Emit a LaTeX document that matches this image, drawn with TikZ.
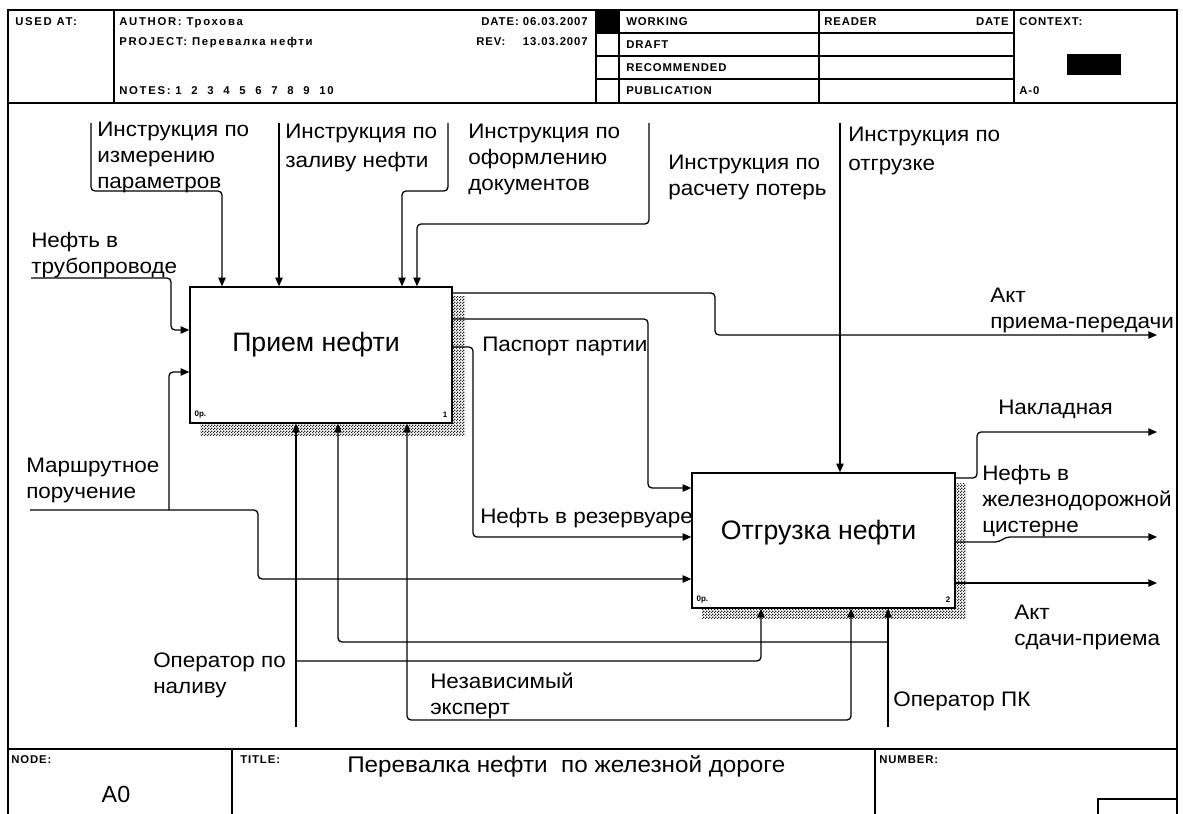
\documentclass[tikz,border=0pt]{standalone}
\usepackage{fontspec}
\setmainfont{Liberation Sans}
\newfontfamily\lblfont[FakeStretch=1.07]{Liberation Sans}
\newfontfamily\hdrfont[LetterSpace=8]{Liberation Sans}
\newfontfamily\hdrwide[LetterSpace=15]{Liberation Sans}
\usetikzlibrary{arrows.meta,patterns,calc}
\pgfdeclarepatternformonly{finechecker}{\pgfqpoint{0pt}{0pt}}{\pgfqpoint{2.25pt}{2.25pt}}{\pgfqpoint{2.25pt}{2.25pt}}{%
  \pgfpathrectangle{\pgfqpoint{0pt}{0pt}}{\pgfqpoint{1.125pt}{1.125pt}}%
  \pgfpathrectangle{\pgfqpoint{1.125pt}{1.125pt}}{\pgfqpoint{1.125pt}{1.125pt}}%
  \pgfusepath{fill}}
\begin{document}
\begin{tikzpicture}[x=0.75pt,y=-0.75pt,
  frame/.style={line width=0.9pt},
  conn/.style={line width=0.95pt, rounded corners=3pt},
  tip/.tip={Triangle[length=6.5pt,width=5.5pt]},
  arr/.style={conn, -tip},
  lbl/.style={font={\lblfont\fontsize{15.75}{19.5}\selectfont}, align=left, inner sep=0pt, anchor=north west},
  hdr/.style={font={\hdrfont\bfseries\fontsize{8.5}{10}\selectfont}, inner sep=0pt, anchor=west, text height=6.1pt, text depth=0pt},
  hdrw/.style={hdr, font={\hdrwide\bfseries\fontsize{8.5}{10}\selectfont}},
  box/.style={draw, fill=white, line width=1pt, minimum width=196.5pt, minimum height=102pt, inner sep=0pt},
  shadow/.style={pattern=finechecker, pattern color=black!85},
  boxtxt/.style={font={\fontsize{20}{24}\selectfont}, inner sep=0pt},
  tiny/.style={font={\bfseries\fontsize{6}{7}\selectfont}, inner sep=0pt}
]
\useasboundingbox (0,0) rectangle (1183,814);
\fill[white] (0,0) rectangle (1183,814);

% ---------- frame ----------
\draw[frame] (8,814) -- (8,10) -- (1177,10) -- (1177,814);
\draw[line width=1.4pt] (8,103) -- (1177,103);
\draw[line width=1.4pt] (8,749) -- (1177,749);

% ---------- header ----------
\draw[frame] (114,10) -- (114,103);
\draw[frame] (596,10) -- (596,103);
\draw[frame] (619,10) -- (619,103);
\draw[frame] (819,10) -- (819,103);
\draw[frame] (1014,10) -- (1014,103);
\foreach \yy in {33,56,79} \draw[frame] (596,\yy) -- (1014,\yy);
\fill (596,10) rectangle (619,33);
\fill (1067,54) rectangle (1121,75);

\node[hdrw] (hUsed) at (15,21) {USED AT:};
\node[hdrw] (hAuthor) at (119,21) {AUTHOR: Трохова};
\node[hdrw] (hProject) at (119,41) {PROJECT: Перевалка нефти};
\node[hdrw] (hNotes) at (119,90) {NOTES:\ 1\ \ 2\ \ 3\ \ 4\ \ 5\ \ 6\ \ 7\ \ 8\ \ 9\ \ 10};
\node[hdr, anchor=east] (hDate) at (588,21) {DATE: 06.03.2007};
\node[hdr] (hRev) at (476,41) {REV:};
\node[hdr, anchor=east] (hRevD) at (588,41) {13.03.2007};
\node[hdr] (hWork) at (626,21) {WORKING};
\node[hdr] (hDraft) at (626,44) {DRAFT};
\node[hdr] (hRec) at (626,67) {RECOMMENDED};
\node[hdr] (hPub) at (626,90) {PUBLICATION};
\node[hdr] (hReader) at (824,21) {READER};
\node[hdr, anchor=east] (hDate2) at (1009,21) {DATE};
\node[hdr] (hCtx) at (1019,21) {CONTEXT:};
\node[hdr] (hA0) at (1019,90) {A-0};

% ---------- footer ----------
\draw[frame] (232,749) -- (232,814);
\draw[frame] (875,749) -- (875,814);
\draw[frame] (1098,814) -- (1098,799) -- (1177,799);
\node[hdr] (fNode) at (11,759) {NODE:};
\node[hdr] (fTitle) at (240,759) {TITLE:};
\node[hdr] (fNum) at (879,759) {NUMBER:};
\node[font={\fontsize{17.5}{20}\selectfont}, inner sep=0pt] (fA0) at (116,794) {A0};
\node[font={\lblfont\fontsize{17}{21}\selectfont}, inner sep=0pt, anchor=west] (fTitleTxt) at (347,766) {Перевалка нефти\ \ по железной дороге};

% ---------- boxes ----------
\fill[shadow] (200,296) rectangle (465,435);
\node[box] (b1) at (321,355) {};
\fill[shadow] (702,483) rectangle (966,618);
\node[box, minimum width=197.25pt, minimum height=101.25pt] (b2) at (823.5,540.5) {};
\node[boxtxt] (t1) at ($(b1.center)+(-5,-10)$) {Прием нефти};
\node[boxtxt] (t2) at ($(b2.center)+(-5,-8)$) {Отгрузка нефти};
\node[tiny, anchor=west] (k1) at ($(b1.south west)+(5,-9)$) {0р.};
\node[tiny, anchor=east] (n1) at ($(b1.south east)+(-5,-9)$) {1};
\node[tiny, anchor=west] (k2) at ($(b2.south west)+(5,-9)$) {0р.};
\node[tiny, anchor=east] (n2) at ($(b2.south east)+(-5,-9)$) {2};

% ---------- free ends ----------
\coordinate (in1) at (31,278);
\coordinate (in2) at (30,510);
\coordinate (j1) at (169,510);
\coordinate (c1s) at (91,123);
\coordinate (c2s) at (279,123);
\coordinate (c3s) at (448,123);
\coordinate (c4s) at (649,123);
\coordinate (c5s) at (840,123);
\coordinate (o1e) at (1157,335);
\coordinate (o4e) at (1157,432);
\coordinate (o5e) at (1157,537);
\coordinate (o6e) at (1157,583);
\coordinate (m1s) at (296,727);
\coordinate (m1j) at (296,661);
\coordinate (m2s) at (888,727);
\coordinate (m2j) at (888,642);

% ---------- inputs ----------
\draw[arr] (in1) -- (171,278) -- (171,330) -- (b1.west |- 0,330);
\draw[arr] (in2) -- (258,510) -- (258,579) -- (b2.west |- 0,579);
\draw[arr] (j1) -- (169,372) -- (b1.west |- 0,372);

% ---------- controls ----------
\draw[arr] (c1s) -- (91,191) -- (222,191) -- (b1.north -| 222,0);
\draw[arr] (c2s) -- (b1.north -| 279,0);
\draw[arr] (c3s) -- (448,191) -- (402,191) -- (b1.north -| 402,0);
\draw[arr] (c4s) -- (649,224) -- (417,224) -- (b1.north -| 417,0);
\draw[arr] (c5s) -- (b2.north -| 840,0);

% ---------- outputs ----------
\draw[arr] (b1.east |- 0,293) -- (715,293) -- (715,335) -- (o1e);
\draw[arr] (b1.east |- 0,319) -- (648,319) -- (648,488) -- (b2.west |- 0,488);
\draw[arr] (b1.east |- 0,347) -- (473,347) -- (473,537) -- (b2.west |- 0,537);
\draw[arr] (b2.east |- 0,478) -- (977,478) -- (977,432) -- (o4e);
\draw[arr] (b2.east |- 0,542) -- (999,542) -- (1006,537) -- (o5e);
\draw[arr] (b2.east |- 0,583) -- (o6e);

% ---------- mechanisms ----------
\draw[arr] (m1s) -- (b1.south -| 296,0);
\draw[arr] (m1j) -- (761,661) -- (b2.south -| 761,0);
\draw[arr] (m2s) -- (b2.south -| 888,0);
\draw[arr] (m2j) -- (338,642) -- (b1.south -| 338,0);
\draw[conn, tip-tip] (b1.south -| 407,0) -- (407,720) -- (851,720) -- (b2.south -| 851,0);

% ---------- labels ----------
\node[lbl] (Lc1) at (97,122) {Инструкция по\\измерению\\параметров};
\node[lbl] (Lc2) at (285,124) {Инструкция по\\[2pt]заливу нефти};
\node[lbl] (Lc3) at (468,124) {Инструкция по\\оформлению\\документов};
\node[lbl] (Lc4) at (668,155) {Инструкция по\\расчету потерь};
\node[lbl] (Lc5) at (848,127) {Инструкция по\\[2pt]отгрузке};
\node[lbl] (Lin1) at (31,232) {Нефть в\\трубопроводе};
\node[lbl] (Lin2) at (26,458) {Маршрутное\\поручение};
\node[lbl] (Lo1) at (990,288) {Акт\\приема-передачи};
\node[lbl] (Lo2) at (482,337) {Паспорт партии};
\node[lbl] (Lo3) at (480,508) {Нефть в резервуаре};
\node[lbl] (Lo4) at (998,400) {Накладная};
\node[lbl] (Lo5) at (982,465) {Нефть в\\железнодорожной\\цистерне};
\node[lbl] (Lo6) at (1014,605) {Акт\\сдачи-приема};
\node[lbl] (Lm1) at (153,653) {Оператор по\\наливу};
\node[lbl] (Lm2) at (893,692) {Оператор ПК};
\node[lbl] (Lm3) at (430,673) {Независимый\\эксперт};
\end{tikzpicture}
\end{document}
